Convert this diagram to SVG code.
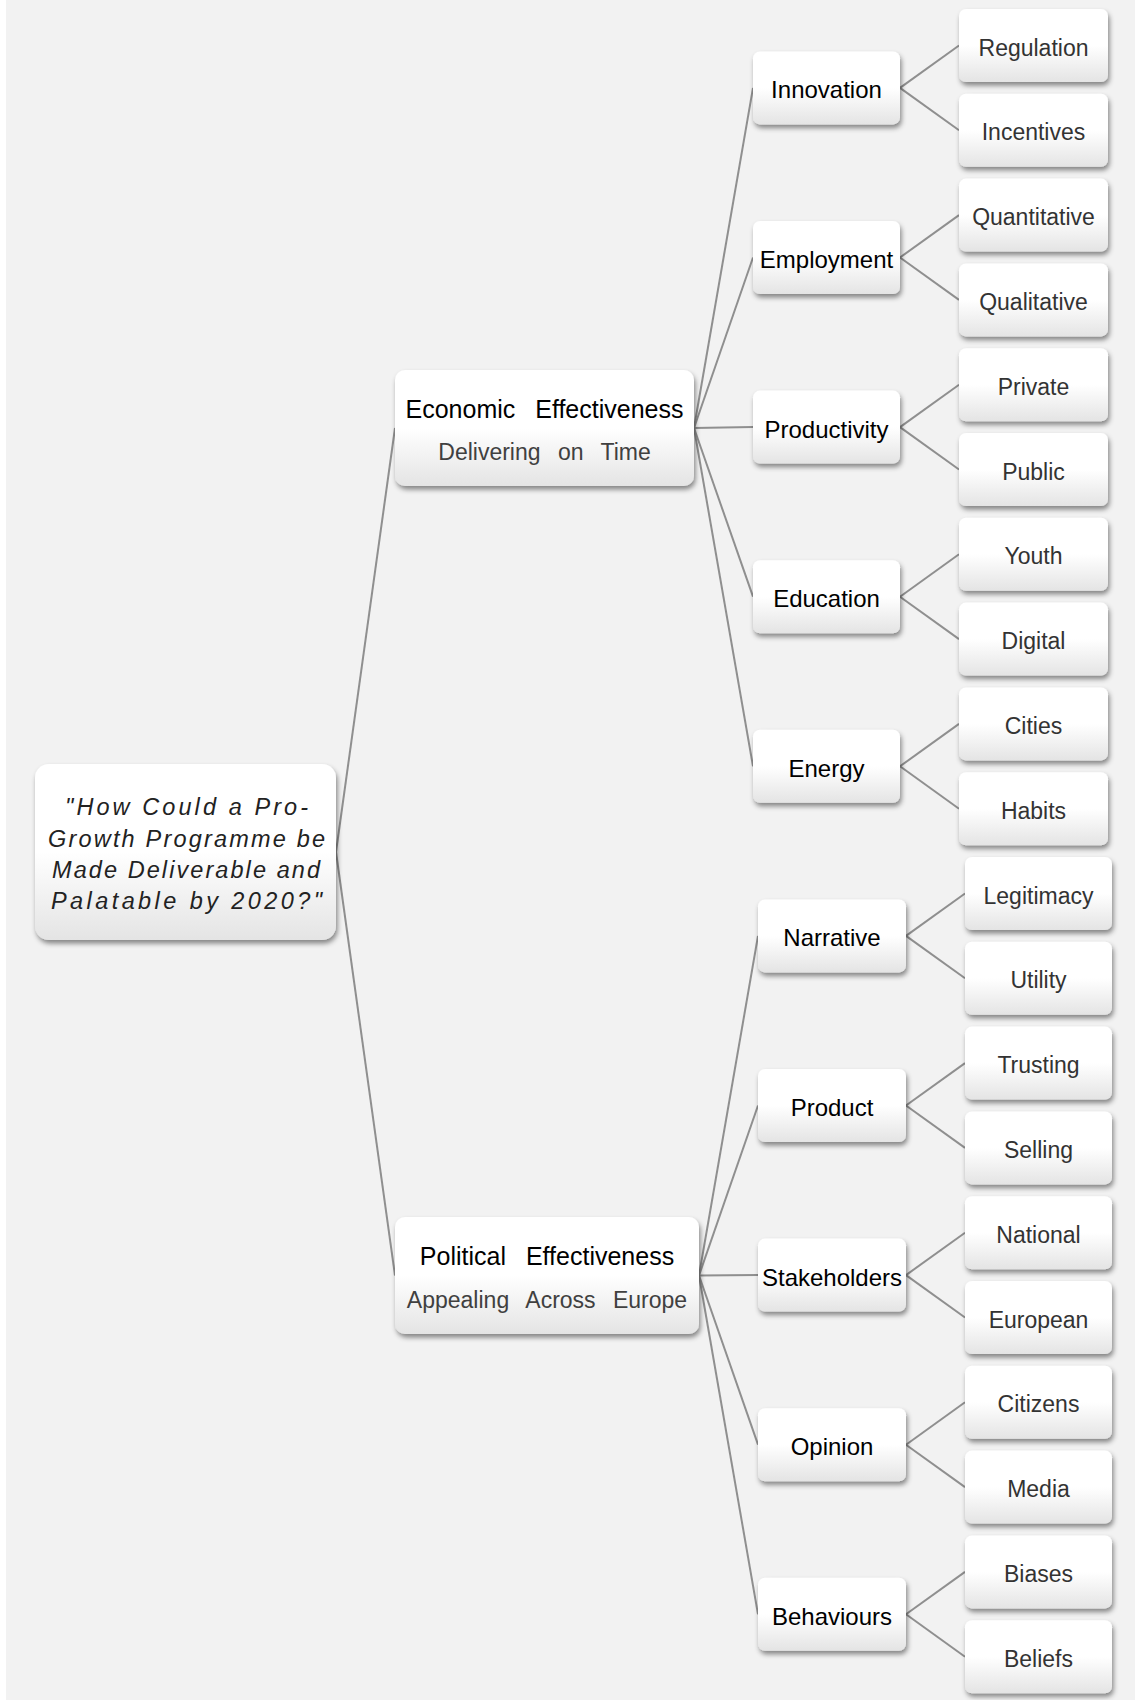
<svg xmlns="http://www.w3.org/2000/svg" width="1135" height="1700" viewBox="0 0 1135 1700">
<defs>
<linearGradient id="g" x1="0" y1="0" x2="0" y2="1">
<stop offset="0" stop-color="#ffffff"/>
<stop offset="0.5" stop-color="#ffffff"/>
<stop offset="1" stop-color="#e4e4e4"/>
</linearGradient>
<filter id="sh" x="-10%" y="-15%" width="125%" height="140%">
<feDropShadow dx="1.5" dy="3.5" stdDeviation="2.5" flood-color="#000" flood-opacity="0.45"/>
</filter>
</defs>
<style>
.n{fill:url(#g);filter:url(#sh)}
.t{font-family:"Liberation Sans",Arial,sans-serif;text-anchor:middle}
.m{font-size:24px;fill:#000}
.l{font-size:23px;fill:#333}
.h{font-size:25px;fill:#000;word-spacing:13px}
.s{font-size:23px;fill:#404040;word-spacing:11px}
.r{font-size:23.5px;fill:#222;font-style:italic}
.c line{stroke:#8f8f8f;stroke-width:2;fill:none}
</style>
<rect x="0" y="0" width="1135" height="1700" fill="#ffffff"/>
<rect x="6" y="0" width="1129" height="1700" fill="#f2f2f2"/>
<g class="c" id="connectors">
<line x1="336" y1="852" x2="395" y2="428"/>
<line x1="336" y1="852" x2="395" y2="1275.5"/>
<line x1="694" y1="428" x2="753" y2="87.9"/>
<line x1="694" y1="428" x2="753" y2="257.5"/>
<line x1="694" y1="428" x2="753" y2="427.1"/>
<line x1="694" y1="428" x2="753" y2="596.7"/>
<line x1="694" y1="428" x2="753" y2="766.3"/>
<line x1="699" y1="1275.5" x2="758" y2="935.9"/>
<line x1="699" y1="1275.5" x2="758" y2="1105.5"/>
<line x1="699" y1="1275.5" x2="758" y2="1275.1"/>
<line x1="699" y1="1275.5" x2="758" y2="1444.7"/>
<line x1="699" y1="1275.5" x2="758" y2="1614.3"/>
<line x1="900" y1="87.9" x2="959" y2="45.5"/>
<line x1="900" y1="87.9" x2="959" y2="130.3"/>
<line x1="900" y1="257.5" x2="959" y2="215.1"/>
<line x1="900" y1="257.5" x2="959" y2="299.9"/>
<line x1="900" y1="427.1" x2="959" y2="384.7"/>
<line x1="900" y1="427.1" x2="959" y2="469.5"/>
<line x1="900" y1="596.7" x2="959" y2="554.3"/>
<line x1="900" y1="596.7" x2="959" y2="639.1"/>
<line x1="900" y1="766.3" x2="959" y2="723.9"/>
<line x1="900" y1="766.3" x2="959" y2="808.7"/>
<line x1="906" y1="935.9" x2="965" y2="893.5"/>
<line x1="906" y1="935.9" x2="965" y2="978.3"/>
<line x1="906" y1="1105.5" x2="965" y2="1063.1"/>
<line x1="906" y1="1105.5" x2="965" y2="1147.9"/>
<line x1="906" y1="1275.1" x2="965" y2="1232.7"/>
<line x1="906" y1="1275.1" x2="965" y2="1317.5"/>
<line x1="906" y1="1444.7" x2="965" y2="1402.3"/>
<line x1="906" y1="1444.7" x2="965" y2="1487.1"/>
<line x1="906" y1="1614.3" x2="965" y2="1571.9"/>
<line x1="906" y1="1614.3" x2="965" y2="1656.7"/>
</g>
<g id="root">
<rect class="n" x="35" y="764" width="301" height="176" rx="14"/>
<text class="t r" x="186.5" y="815" textLength="243" lengthAdjust="spacing">"How Could a Pro-</text>
<text class="t r" x="186.5" y="846.5" textLength="277" lengthAdjust="spacing">Growth Programme be</text>
<text class="t r" x="186" y="878" textLength="268" lengthAdjust="spacing">Made Deliverable and</text>
<text class="t r" x="186.5" y="908.5" textLength="271" lengthAdjust="spacing">Palatable by 2020?"</text>
</g>
<g id="economic">
<rect class="n" x="395" y="370" width="299" height="116" rx="10"/>
<text class="t h" x="544.5" y="418">Economic Effectiveness</text>
<text class="t s" x="544.5" y="460">Delivering on Time</text>
</g>
<g id="political">
<rect class="n" x="395" y="1217" width="304" height="117" rx="10"/>
<text class="t h" x="547" y="1265">Political Effectiveness</text>
<text class="t s" x="547" y="1308">Appealing Across Europe</text>
</g>
<g id="innovation"><rect class="n" x="753" y="51.4" width="147" height="73" rx="7"/><text class="t m" x="826.5" y="98.4">Innovation</text></g>
<g id="employment"><rect class="n" x="753" y="221" width="147" height="73" rx="7"/><text class="t m" x="826.5" y="268">Employment</text></g>
<g id="productivity"><rect class="n" x="753" y="390.6" width="147" height="73" rx="7"/><text class="t m" x="826.5" y="437.6">Productivity</text></g>
<g id="education"><rect class="n" x="753" y="560.2" width="147" height="73" rx="7"/><text class="t m" x="826.5" y="607.2">Education</text></g>
<g id="energy"><rect class="n" x="753" y="729.8" width="147" height="73" rx="7"/><text class="t m" x="826.5" y="776.8">Energy</text></g>
<g id="narrative"><rect class="n" x="758" y="899.4" width="148" height="73" rx="7"/><text class="t m" x="832" y="946.4">Narrative</text></g>
<g id="product"><rect class="n" x="758" y="1069" width="148" height="73" rx="7"/><text class="t m" x="832" y="1116">Product</text></g>
<g id="stakeholders"><rect class="n" x="758" y="1238.6" width="148" height="73" rx="7"/><text class="t m" x="832" y="1285.6">Stakeholders</text></g>
<g id="opinion"><rect class="n" x="758" y="1408.2" width="148" height="73" rx="7"/><text class="t m" x="832" y="1455.2">Opinion</text></g>
<g id="behaviours"><rect class="n" x="758" y="1577.8" width="148" height="73" rx="7"/><text class="t m" x="832" y="1624.8">Behaviours</text></g>
<g id="regulation"><rect class="n" x="959" y="9" width="149" height="73" rx="7"/><text class="t l" x="1033.5" y="55.5">Regulation</text></g>
<g id="incentives"><rect class="n" x="959" y="93.8" width="149" height="73" rx="7"/><text class="t l" x="1033.5" y="140.3">Incentives</text></g>
<g id="quantitative"><rect class="n" x="959" y="178.6" width="149" height="73" rx="7"/><text class="t l" x="1033.5" y="225.1">Quantitative</text></g>
<g id="qualitative"><rect class="n" x="959" y="263.4" width="149" height="73" rx="7"/><text class="t l" x="1033.5" y="309.9">Qualitative</text></g>
<g id="private"><rect class="n" x="959" y="348.2" width="149" height="73" rx="7"/><text class="t l" x="1033.5" y="394.7">Private</text></g>
<g id="public"><rect class="n" x="959" y="433" width="149" height="73" rx="7"/><text class="t l" x="1033.5" y="479.5">Public</text></g>
<g id="youth"><rect class="n" x="959" y="517.8" width="149" height="73" rx="7"/><text class="t l" x="1033.5" y="564.3">Youth</text></g>
<g id="digital"><rect class="n" x="959" y="602.6" width="149" height="73" rx="7"/><text class="t l" x="1033.5" y="649.1">Digital</text></g>
<g id="cities"><rect class="n" x="959" y="687.4" width="149" height="73" rx="7"/><text class="t l" x="1033.5" y="733.9">Cities</text></g>
<g id="habits"><rect class="n" x="959" y="772.2" width="149" height="73" rx="7"/><text class="t l" x="1033.5" y="818.7">Habits</text></g>
<g id="legitimacy"><rect class="n" x="965" y="857" width="147" height="73" rx="7"/><text class="t l" x="1038.5" y="903.5">Legitimacy</text></g>
<g id="utility"><rect class="n" x="965" y="941.8" width="147" height="73" rx="7"/><text class="t l" x="1038.5" y="988.3">Utility</text></g>
<g id="trusting"><rect class="n" x="965" y="1026.6" width="147" height="73" rx="7"/><text class="t l" x="1038.5" y="1073.1">Trusting</text></g>
<g id="selling"><rect class="n" x="965" y="1111.4" width="147" height="73" rx="7"/><text class="t l" x="1038.5" y="1157.9">Selling</text></g>
<g id="national"><rect class="n" x="965" y="1196.2" width="147" height="73" rx="7"/><text class="t l" x="1038.5" y="1242.7">National</text></g>
<g id="european"><rect class="n" x="965" y="1281" width="147" height="73" rx="7"/><text class="t l" x="1038.5" y="1327.5">European</text></g>
<g id="citizens"><rect class="n" x="965" y="1365.8" width="147" height="73" rx="7"/><text class="t l" x="1038.5" y="1412.3">Citizens</text></g>
<g id="media"><rect class="n" x="965" y="1450.6" width="147" height="73" rx="7"/><text class="t l" x="1038.5" y="1497.1">Media</text></g>
<g id="biases"><rect class="n" x="965" y="1535.4" width="147" height="73" rx="7"/><text class="t l" x="1038.5" y="1581.9">Biases</text></g>
<g id="beliefs"><rect class="n" x="965" y="1620.2" width="147" height="73" rx="7"/><text class="t l" x="1038.5" y="1666.7">Beliefs</text></g>
</svg>
